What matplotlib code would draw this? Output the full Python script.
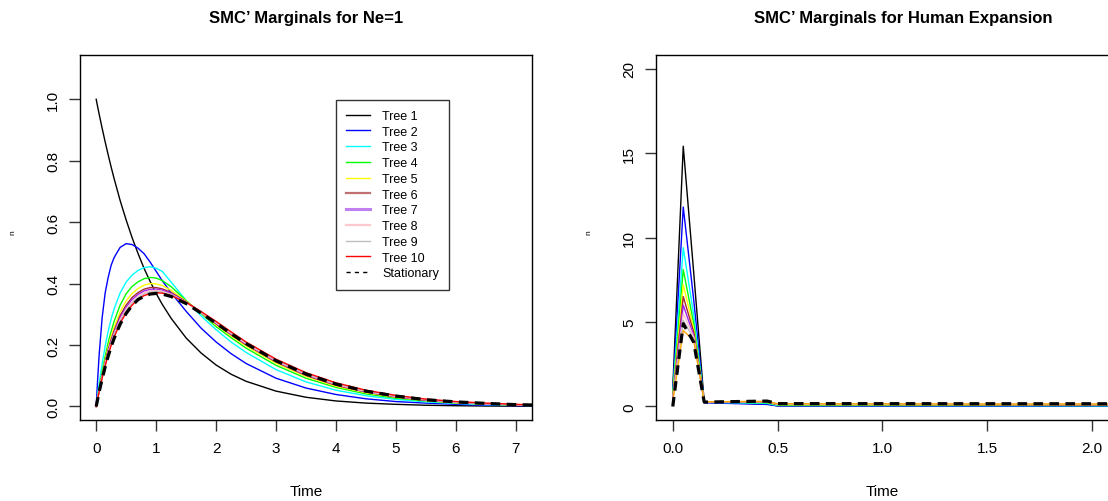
import matplotlib
matplotlib.use("Agg")
import matplotlib.pyplot as plt
from matplotlib.lines import Line2D

plt.rcParams['font.family'] = ['Liberation Sans', 'DejaVu Sans']

# ---------------- Left panel data (Ne = 1) ----------------
time_ne1 = [0, .025, .05, .1, .15, .2, .25, .3, .4, .5, .6, .7, .8, .9, 1.0, 1.1, 1.25, 1.5, 1.75,
            2.0, 2.25, 2.5, 3.0, 3.5, 4.0, 4.5, 5.0, 5.5, 6.0, 6.5, 7.0, 7.5]
tree1_ne1 = [1, .975, .951, .905, .861, .819, .779, .741, .670, .607, .549, .497, .449, .407, .368,
             .333, .287, .223, .174, .135, .105, .082, .050, .030, .018, .011, .007, .004, .0025,
             .0015, .001, .0006]
tree2_ne1 = [0, .09, .17, .29, .37, .42, .46, .485, .518, .53, .527, .515, .497, .47, .44, .41, .37,
             .31, .255, .21, .172, .14, .092, .06, .039, .025, .016, .011, .007, .004, .003, .002]
tree3_ne1 = [0, .04, .075, .14, .197, .245, .285, .318, .37, .405, .428, .443, .452, .455, .45, .44,
             .405, .345, .295, .25, .21, .176, .12, .08, .053, .035, .023, .015, .01, .006, .004, .002]
tree4_ne1 = [0, .031, .06, .114, .163, .208, .245, .278, .33, .367, .391, .406, .416, .42, .418, .41,
             .39, .345, .303, .26, .224, .19, .134, .092, .062, .041, .027, .018, .012, .008, .005, .003]
tree5_ne1 = [0, .028, .055, .105, .151, .193, .228, .258, .308, .344, .368, .384, .395, .40, .399,
             .394, .378, .343, .305, .266, .23, .197, .141, .098, .066, .045, .030, .019, .012, .008,
             .005, .003]
tree6_ne1 = [0, .027, .053, .101, .145, .185, .218, .247, .296, .33, .355, .371, .382, .387, .387,
             .383, .371, .341, .306, .269, .234, .201, .145, .101, .069, .047, .031, .020, .013, .009,
             .005, .003]
tree7_ne1 = [0, .026, .052, .099, .141, .18, .213, .241, .289, .323, .348, .365, .376, .381, .382,
             .379, .368, .34, .306, .271, .236, .203, .147, .103, .071, .048, .032, .021, .014, .009,
             .006, .004]
tree8_ne1 = [0, .026, .051, .097, .138, .176, .208, .236, .283, .317, .342, .359, .371, .377, .378,
             .375, .365, .339, .306, .273, .238, .205, .149, .105, .072, .049, .033, .022, .014, .009,
             .006, .004]
tree9_ne1 = [0, .025, .05, .095, .135, .172, .204, .231, .277, .311, .336, .354, .366, .372, .374,
             .372, .363, .339, .307, .275, .241, .208, .151, .107, .074, .051, .035, .023, .015, .010,
             .006, .004]
tree10_ne1 = [0, .025, .049, .093, .132, .168, .199, .226, .271, .305, .330, .349, .361, .367, .370,
              .369, .361, .339, .309, .277, .243, .21, .154, .11, .077, .053, .036, .024, .016, .011,
              .007, .004]
stationary_ne1 = [0, .024, .048, .09, .129, .164, .195, .222, .268, .303, .329, .348, .359, .366,
                  .368, .366, .358, .335, .304, .271, .237, .205, .149, .106, .073, .050, .034, .022,
                  .015, .010, .006, .004]

# ---------------- Right panel data (Human expansion) ----------------
time_hum = [0, 0.05, 0.10, 0.15, 0.45, 0.50, 2.2]
tree1_hum = [1.05, 15.4, 7.9, 0.25, 0.15, 0.04, 0.02]
tree2_hum = [0.9, 11.8, 6.3, 0.22, 0.12, 0.03, 0.02]
tree3_hum = [0.8, 9.4, 5.4, 0.25, 0.18, 0.06, 0.04]
tree4_hum = [0.7, 8.1, 4.9, 0.27, 0.22, 0.09, 0.06]
tree5_hum = [0.6, 7.2, 4.6, 0.28, 0.25, 0.11, 0.08]
tree6_hum = [0.5, 6.5, 4.4, 0.28, 0.27, 0.12, 0.10]
tree7_hum = [0.45, 6.0, 4.2, 0.28, 0.28, 0.13, 0.11]
tree8_hum = [0.4, 5.5, 4.1, 0.28, 0.29, 0.14, 0.12]
tree9_hum = [0.35, 5.1, 4.0, 0.28, 0.29, 0.15, 0.13]
tree10_hum = [0.3, 4.5, 3.9, 0.28, 0.30, 0.16, 0.14]
stationary_hum = [0.0, 4.9, 3.8, 0.26, 0.32, 0.17, 0.16]

labels = ["Tree 1", "Tree 2", "Tree 3", "Tree 4", "Tree 5", "Tree 6", "Tree 7",
          "Tree 8", "Tree 9", "Tree 10", "Stationary"]
colors_left = ["black", "#0000FF", "#00FFFF", "#00FF00", "#FFFF00", "#A52A2A",
               "#A020F0", "#FFC0CB", "#BEBEBE", "#FF0000"]
colors_right = ["black", "#0000FF", "#00FFFF", "#00FF00", "#FFFF00", "#A52A2A",
                "#A020F0", "#FFC0CB", "#BEBEBE", "#FFA500"]

left_trees = [tree1_ne1, tree2_ne1, tree3_ne1, tree4_ne1, tree5_ne1, tree6_ne1,
              tree7_ne1, tree8_ne1, tree9_ne1, tree10_ne1]
right_trees = [tree1_hum, tree2_hum, tree3_hum, tree4_hum, tree5_hum, tree6_hum,
               tree7_hum, tree8_hum, tree9_hum, tree10_hum]

W, H = 1108, 502
fig = plt.figure(figsize=(W / 100, H / 100), dpi=100)

def px_axes(x0, y0, x1, y1):
    return fig.add_axes([x0 / W, 1 - y1 / H, (x1 - x0) / W, (y1 - y0) / H])

axL = px_axes(80, 56, 532, 421)
axR = px_axes(656, 56, 1108.8, 421)

TICK_FS = 11
STAT_DASH = (0, (3, 2))

def style(ax):
    for s in ax.spines.values():
        s.set_linewidth(1.0)
        s.set_color("black")
    ax.tick_params(direction="out", length=7.7, width=1, labelsize=TICK_FS, color="#333333")
    ax.tick_params(axis="x", pad=7.5)
    ax.tick_params(axis="y", pad=6.5)
    for lab in ax.get_yticklabels():
        lab.set_rotation(90)
        lab.set_va("center")

# Left
for y, c in zip(left_trees, colors_left):
    axL.plot(time_ne1, y, color=c, lw=1.0)
axL.plot(time_ne1, stationary_ne1, color="black", lw=2.3, ls=STAT_DASH)
axL.set_xlim(-0.27, 7.27)
axL.set_ylim(-0.044, 1.144)
axL.set_xticks(range(0, 8))
axL.set_yticks([0.0, 0.2, 0.4, 0.6, 0.8, 1.0])
axL.set_yticklabels(["0.0", "0.2", "0.4", "0.6", "0.8", "1.0"])
style(axL)

handles = [Line2D([], [], color=c, lw=1.0) for c in colors_left]
handles[5] = Line2D([], [], color="#C07070", lw=1.6)
handles[6] = Line2D([], [], color="#C080F0", lw=2.2)
handles[7] = Line2D([], [], color="#FFC8D0", lw=1.6)
handles.append(Line2D([], [], color="black", lw=1.0, ls=(0, (3, 3))))
leg = axL.legend(handles, labels, loc="upper left",
                 bbox_to_anchor=((336 - 80) / 452, (421 - 101) / 365),
                 fontsize=9, frameon=True, fancybox=False, edgecolor="black",
                 handlelength=1.9, handletextpad=1.0, labelspacing=0.3,
                 borderpad=0.8, borderaxespad=0)
leg.get_frame().set_linewidth(1.0)

# Right
for y, c in zip(right_trees, colors_right):
    axR.plot(time_hum, y, color=c, lw=1.0)
axR.plot(time_hum, stationary_hum, color="black", lw=2.3, ls=STAT_DASH)
axR.set_xlim(-0.08, 2.08)
axR.set_ylim(-0.8, 20.8)
axR.set_xticks([0.0, 0.5, 1.0, 1.5, 2.0])
axR.set_xticklabels(["0.0", "0.5", "1.0", "1.5", "2.0"])
axR.set_yticks([0, 5, 10, 15, 20])
style(axR)

# Titles and labels
fig.text(306 / W, 1 - 18 / H, "SMC’ Marginals for Ne=1", ha="center", va="center",
         fontsize=12, fontweight="bold")
fig.text(903 / W, 1 - 18 / H, "SMC’ Marginals for Human Expansion", ha="center", va="center",
         fontsize=12, fontweight="bold")
fig.text(306 / W, 1 - 492 / H, "Time", ha="center", va="center", fontsize=TICK_FS)
fig.text(882 / W, 1 - 492 / H, "Time", ha="center", va="center", fontsize=TICK_FS)
fig.text(13 / W, 1 - 233 / H, "n", ha="center", va="center", fontsize=6, rotation=90)
fig.text(589 / W, 1 - 233 / H, "n", ha="center", va="center", fontsize=6, rotation=90)

fig.savefig("out.png", dpi=100)
